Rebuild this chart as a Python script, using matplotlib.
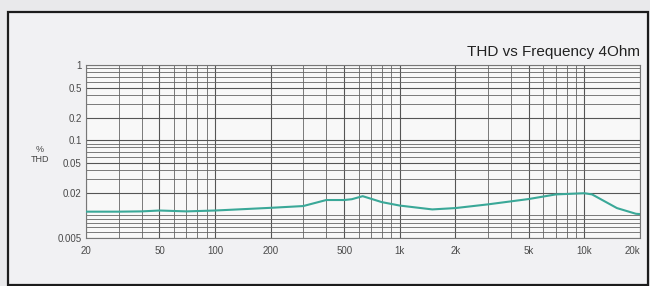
import matplotlib.pyplot as plt
from matplotlib.patches import Rectangle
from matplotlib.ticker import FixedLocator, NullFormatter, LogLocator
import numpy as np

plt.rcParams['font.family'] = ['Liberation Sans', 'DejaVu Sans']

# THD measurement, 4 Ohm load
freq = [20, 30, 40, 50, 70, 100, 200, 300, 400, 500, 550, 630, 800,
        1000, 1500, 2000, 3000, 5000, 7000, 10000, 11000, 15000, 19000, 20000]
thd = [0.0112, 0.0112, 0.0113, 0.0116, 0.0113, 0.0116, 0.0126, 0.0133,
       0.0160, 0.0160, 0.0164, 0.0180, 0.0150, 0.0135, 0.0120, 0.0125,
       0.0140, 0.0165, 0.0190, 0.0197, 0.0190, 0.0125, 0.0105, 0.0104]

x_ticks = [20, 50, 100, 200, 500, 1000, 2000, 5000, 10000, 20000]
x_labels = ['20', '50', '100', '200', '500', '1k', '2k', '5k', '10k', '20k']
y_ticks = [0.005, 0.02, 0.05, 0.1, 0.2, 0.5, 1]
y_labels = ['0.005', '0.02', '0.05', '0.1', '0.2', '0.5', '1']

fig = plt.figure(figsize=(6.5, 2.86), dpi=100)
fig.patch.set_facecolor('#e9e9eb')

# outer frame
fig.patches.append(Rectangle((8 / 650, 1 / 286), 640 / 650, 273 / 286,
                             transform=fig.transFigure, facecolor='#f1f1f3',
                             edgecolor='#1c1c1c', linewidth=1.6, zorder=-10))

ax = fig.add_axes([86 / 650, 1 - 238 / 286, 554 / 650, 173 / 286])
ax.set_facecolor('#f8f8f8')
ax.set_xscale('log')
ax.set_yscale('log')
ax.set_xlim(20, 20000)
ax.set_ylim(0.005, 1)

ax.xaxis.set_major_locator(FixedLocator(x_ticks))
ax.set_xticklabels(x_labels)
ax.get_xticklabels()[-1].set_horizontalalignment('right')
ax.xaxis.set_minor_locator(LogLocator(base=10, subs=np.arange(1, 10)))
ax.xaxis.set_minor_formatter(NullFormatter())
ax.yaxis.set_major_locator(FixedLocator(y_ticks))
ax.set_yticklabels(y_labels)
ax.yaxis.set_minor_locator(LogLocator(base=10, subs=np.arange(1, 10)))
ax.yaxis.set_minor_formatter(NullFormatter())

ax.grid(True, which='major', color='#555555', linewidth=0.8)
ax.grid(True, which='minor', color='#666666', linewidth=0.6)
ax.tick_params(which='both', length=0, labelsize=7, colors='#4a4a4a')
ax.tick_params(axis='x', pad=6)
ax.tick_params(axis='y', pad=3)
for s in ax.spines.values():
    s.set_color('#777777')
    s.set_linewidth(0.8)

ax.plot(freq, thd, color='#3aa898', linewidth=1.5, zorder=3)

fig.text(40 / 650, 1 - 150 / 286, '%', fontsize=6.5, color='#444444', ha='center', va='center')
fig.text(40 / 650, 1 - 160 / 286, 'THD', fontsize=6.5, color='#444444', ha='center', va='center')
fig.text(640 / 650, 1 - 52 / 286, 'THD vs Frequency 4Ohm', fontsize=11,
         color='#222222', ha='right', va='center')

fig.savefig('out.png', dpi=100, facecolor=fig.get_facecolor())
